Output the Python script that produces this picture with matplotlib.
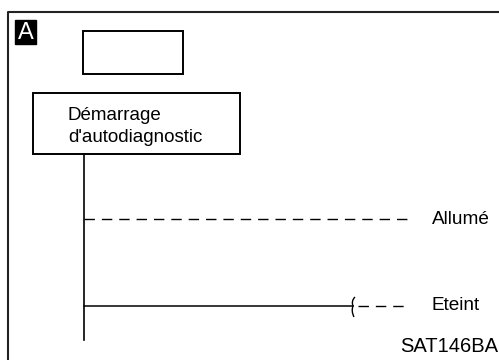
import matplotlib.pyplot as plt
from matplotlib.patches import Rectangle, PathPatch
from matplotlib.path import Path

plt.rcParams['font.family'] = ['Liberation Sans', 'DejaVu Sans']

# diagram content
panel_label = 'A'
start_label = ['Démarrage', "d'autodiagnostic"]
state_labels = ['Allumé', 'Eteint']
state_y = [219, 306]          # row of each state (pixels from top)
state_solid_end = [84, 353]   # where the solid part stops
state_dash_end = [410, 405]   # where the dashed part stops
figure_code = 'SAT146BA'

fig = plt.figure(figsize=(4.99, 3.6), dpi=100)
ax = fig.add_axes([0, 0, 1, 1])
ax.set_xlim(0, 499)
ax.set_ylim(360, 0)
ax.axis('off')

# outer frame (left + top only visible)
ax.plot([8, 8, 499], [360, 12, 12], color='#222222', lw=1.5, solid_capstyle='butt')

# panel label "A"
ax.add_patch(Rectangle((15, 20), 21, 24, color='black'))
ax.text(25.5, 33, panel_label, color='white', fontsize=17, ha='center', va='center')

# empty display box
ax.add_patch(Rectangle((83, 31), 100, 43, fill=False, ec='black', lw=1.4))

# start box
ax.add_patch(Rectangle((33, 93), 207, 61, fill=False, ec='black', lw=1.4))
ax.text(68, 115, start_label[0], fontsize=13.5, va='center', ha='left')
ax.text(68, 137, start_label[1], fontsize=13.5, va='center', ha='left')

# time line
ax.plot([84, 84], [154, 340], color='black', lw=1.2)

dash = (0, (7.5, 5))
for y, s_end, d_end, lab in zip(state_y, state_solid_end, state_dash_end, state_labels):
    if s_end > 84:
        ax.plot([84, s_end], [y, y], color='black', lw=1.1)
        # small break mark
        verts = [(s_end + 2, y - 9), (s_end - 2, y - 5), (s_end, y),
                 (s_end - 2, y + 5), (s_end + 1, y + 11)]
        codes = [Path.MOVETO, Path.CURVE3, Path.CURVE3, Path.CURVE3, Path.CURVE3]
        ax.add_patch(PathPatch(Path(verts, codes), fill=False, lw=1.0, ec='black'))
        ax.plot([s_end + 5, d_end], [y, y], color='black', lw=1.0, linestyle=dash)
    else:
        ax.plot([84, d_end], [y, y], color='black', lw=1.0, linestyle=dash)
    ax.text(432, y, lab, fontsize=13.7, va='center', ha='left')

ax.text(498, 347, figure_code, fontsize=14.5, va='center', ha='right')

fig.savefig('out.png', dpi=100)
